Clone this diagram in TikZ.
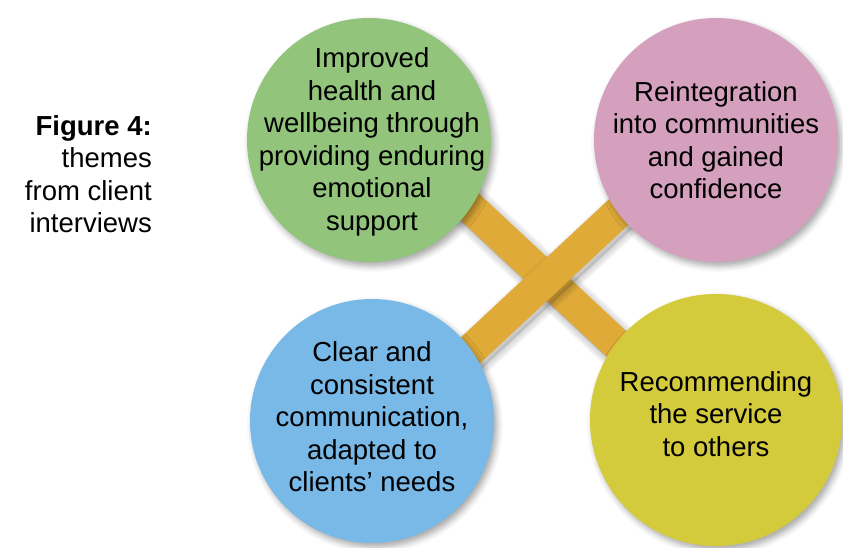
\documentclass[tikz,border=0pt]{standalone}
\usepackage{fontspec}
\setmainfont{Liberation Sans}
\usetikzlibrary{calc,shadows.blur}
\definecolor{themegreen}{RGB}{146,196,123}
\definecolor{themepink}{RGB}{213,160,190}
\definecolor{themeblue}{RGB}{120,185,232}
\definecolor{themeyellow}{RGB}{212,203,60}
\definecolor{crossband}{RGB}{224,170,56}
% a filled band between four corners, with a soft shadow to the lower right
\newcommand\softband[4]{%
  \begin{scope}[line join=round]
    \foreach \w in {14,11,8,5,2}
      \draw[black,line width=\w pt,opacity=0.035] ([shift={(3,4)}]#1) -- ([shift={(3,4)}]#2)
        -- ([shift={(3,4)}]#3) -- ([shift={(3,4)}]#4) -- cycle;
    \fill[black,opacity=0.12] ([shift={(3,4)}]#1) -- ([shift={(3,4)}]#2)
        -- ([shift={(3,4)}]#3) -- ([shift={(3,4)}]#4) -- cycle;
  \end{scope}
  \fill[crossband] (#1) -- (#2) -- (#3) -- (#4) -- cycle;}
\begin{document}
\begin{tikzpicture}[x=1pt,y=-1pt,
  softshadow/.style={blur shadow={shadow xshift=3pt,shadow yshift=-4pt,shadow blur radius=6pt,shadow opacity=35}},
  theme/.style={circle,minimum size=244pt,inner sep=0pt,softshadow},
  themetext/.style={align=center,inner sep=0pt,font=\fontsize{27.5}{32.5}\selectfont,text=black}]
\useasboundingbox (0,0) rectangle (843,547);
% centres of the four themes and of the crossing
\coordinate (cg) at (369,140);
\coordinate (cp) at (716,140);
\coordinate (cb) at (372,421);
\coordinate (cy) at (716,420);
\coordinate (cx) at (547,279);
% corners of the two crossing bands (32pt wide, at +/-43 degrees)
\coordinate (a1) at ($(cx)+(43:280)+(133:16)$);
\coordinate (a2) at ($(cx)+(43:280)+(-47:16)$);
\coordinate (a3) at ($(cx)+(223:280)+(-47:16)$);
\coordinate (a4) at ($(cx)+(223:280)+(133:16)$);
\coordinate (b1) at ($(cx)+(-43:280)+(47:16)$);
\coordinate (b2) at ($(cx)+(-43:280)+(227:16)$);
\coordinate (b3) at ($(cx)+(137:280)+(227:16)$);
\coordinate (b4) at ($(cx)+(137:280)+(47:16)$);
\softband{a1}{a2}{a3}{a4}
\softband{b1}{b2}{b3}{b4}
% theme circles
\node[theme,fill=themegreen] (green) at (cg) {};
\node[theme,fill=themepink] (pink) at (cp) {};
\node[theme,fill=themeblue] (blue) at (cb) {};
\node[theme,fill=themeyellow,minimum size=252pt] (yellow) at (cy) {};
% theme labels
\node[themetext] (tg) at (372,142) {Improved\\health and\\wellbeing through\\providing enduring\\emotional\\support};
\node[themetext] (tp) at (716,140) {Reintegration\\into communities\\and gained\\confidence};
\node[themetext] (tb) at (372,417) {Clear and\\consistent\\communication,\\adapted to\\clients’ needs};
\node[themetext] (ty) at (716,414) {Recommending\\the service\\to others};
% caption
\node[anchor=east,align=right,inner sep=0pt,font=\fontsize{27.5}{32.5}\selectfont] (caption) at (152,174)
  {\textbf{Figure 4:}\\themes\\from client\\interviews};
\end{tikzpicture}
\end{document}
